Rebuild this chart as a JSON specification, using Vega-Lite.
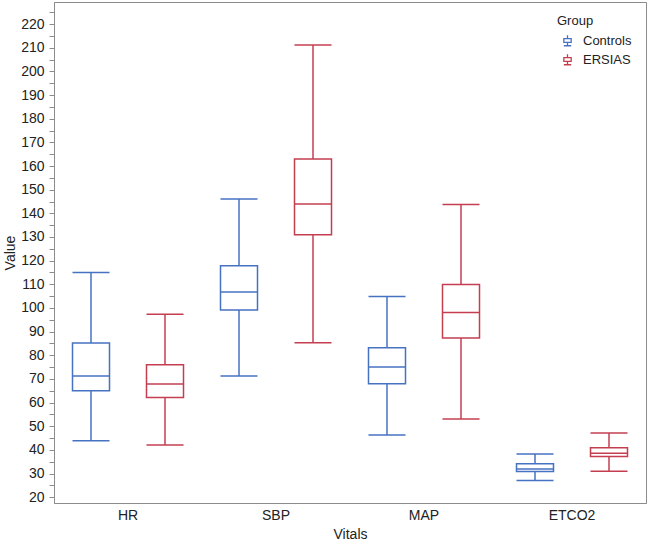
{
  "$schema": "https://vega.github.io/schema/vega-lite/v6.json",
  "width": 592,
  "height": 501,
  "autosize": {"type": "none"},
  "padding": {"left": 54, "top": 2, "right": 4, "bottom": 39},
  "background": "white",
  "config": {
    "font": "Liberation Sans",
    "view": {"stroke": "#8c8c8c", "strokeWidth": 1},
    "axis": {"labelColor": "#222", "titleColor": "#222", "domainColor": "#8c8c8c", "tickColor": "#8c8c8c", "labelFontSize": 14, "titleFontSize": 14, "titleFontWeight": "normal", "grid": false, "labelOverlap": false},
    "axisY": {"labelExpr": "datum.value % 10 === 0 ? datum.label : ''", "tickSize": 5, "labelPadding": 5, "titlePadding": 3, "labelOverlap": false, "labelBound": false}
  },
  "data": {
    "values": [
      {"vital": "HR", "group": "Controls", "low": 43.9, "q1": 65.0, "median": 71.3, "q3": 85.2, "high": 115.0},
      {"vital": "HR", "group": "ERSIAS", "low": 42.1, "q1": 62.2, "median": 67.9, "q3": 76.0, "high": 97.4},
      {"vital": "SBP", "group": "Controls", "low": 71.3, "q1": 99.2, "median": 106.8, "q3": 117.8, "high": 146.1},
      {"vital": "SBP", "group": "ERSIAS", "low": 85.3, "q1": 130.9, "median": 143.9, "q3": 163.0, "high": 211.1},
      {"vital": "MAP", "group": "Controls", "low": 46.3, "q1": 68.0, "median": 75.1, "q3": 83.2, "high": 104.9},
      {"vital": "MAP", "group": "ERSIAS", "low": 53.1, "q1": 87.3, "median": 98.1, "q3": 109.9, "high": 143.7},
      {"vital": "ETCO2", "group": "Controls", "low": 27.1, "q1": 30.9, "median": 32.0, "q3": 34.2, "high": 38.3},
      {"vital": "ETCO2", "group": "ERSIAS", "low": 31.0, "q1": 37.3, "median": 38.6, "q3": 40.9, "high": 47.2}
    ]
  },
  "encoding": {
    "x": {
      "field": "vital", "type": "nominal", "sort": ["HR", "SBP", "MAP", "ETCO2"],
      "scale": {"paddingInner": 0, "paddingOuter": 0},
      "axis": {"title": "Vitals", "labelAngle": 0, "ticks": false, "labelPadding": 5, "titlePadding": 5}
    },
    "xOffset": {"field": "group", "type": "nominal", "scale": {"paddingInner": 0, "paddingOuter": 0}},
    "color": {
      "field": "group", "type": "nominal",
      "scale": {"domain": ["Controls", "ERSIAS"], "range": ["#4672c2", "#c43e50"]},
      "legend": {
        "title": "Group", "orient": "none", "legendX": 503, "legendY": 13,
        "titleFontSize": 13, "titleFontWeight": "normal", "titleColor": "#222", "titlePadding": 6,
        "labelFontSize": 13, "labelColor": "#222", "labelOffset": 9, "symbolOffset": 4,
        "symbolType": "M0,-1V-0.35M-0.7,-0.35H0.7V0.35H-0.7ZM0,0.35V1M-0.7,1H0.7",
        "symbolSize": 110, "symbolStrokeWidth": 1.3, "rowPadding": 2,
        "encode": {"symbols": {"update": {"fill": {"value": "transparent"}, "fillOpacity": {"value": 0}, "strokeOpacity": {"value": 1}, "opacity": {"value": 1}}}}
      }
    }
  },
  "layer": [
    {
      "mark": {"type": "rule", "strokeWidth": 1.5},
      "encoding": {
        "y": {
          "field": "low", "type": "quantitative",
          "scale": {"domain": [17.6, 229.3], "nice": false, "zero": false},
          "axis": {
            "title": "Value", "titlePadding": 3, "labelOverlap": false, "labelBound": false,
            "values": [20, 25, 30, 35, 40, 45, 50, 55, 60, 65, 70, 75, 80, 85, 90, 95, 100, 105, 110, 115, 120, 125, 130, 135, 140, 145, 150, 155, 160, 165, 170, 175, 180, 185, 190, 195, 200, 205, 210, 215, 220, 225],
            "tickCount": 42,
            "labelExpr": "datum.value % 10 === 0 ? datum.label : ''",
            "tickSize": 5, "labelPadding": 5,
            "encoding": {"ticks": {"update": {"x2": {"signal": "datum.value % 10 === 0 ? -5 : -3"}}}}
          }
        },
        "y2": {"field": "q1"}
      }
    },
    {
      "mark": {"type": "rule", "strokeWidth": 1.5},
      "encoding": {"y": {"field": "q3", "type": "quantitative"}, "y2": {"field": "high"}}
    },
    {
      "mark": {"type": "tick", "size": 37, "thickness": 1.5, "opacity": 1},
      "encoding": {"y": {"field": "low", "type": "quantitative"}}
    },
    {
      "mark": {"type": "tick", "size": 37, "thickness": 1.5, "opacity": 1},
      "encoding": {"y": {"field": "high", "type": "quantitative"}}
    },
    {
      "mark": {"type": "bar", "size": 37, "filled": false, "strokeWidth": 1.5, "opacity": 1},
      "encoding": {"y": {"field": "q1", "type": "quantitative"}, "y2": {"field": "q3"}}
    },
    {
      "mark": {"type": "tick", "size": 37, "thickness": 1.5, "opacity": 1},
      "encoding": {"y": {"field": "median", "type": "quantitative"}}
    }
  ]
}
